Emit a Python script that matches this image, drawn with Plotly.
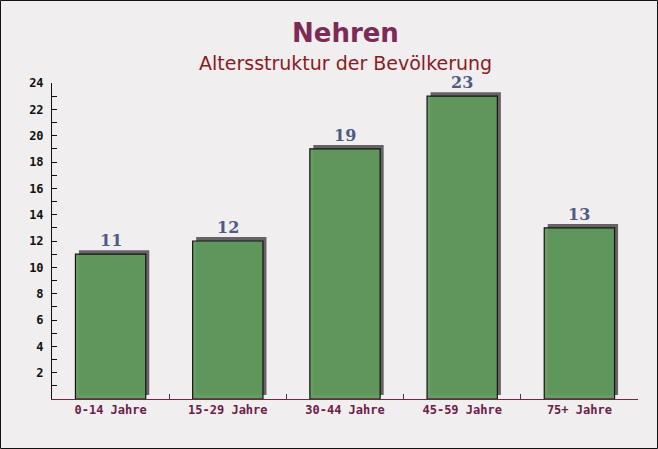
import plotly.graph_objects as go

categories = ["0-14 Jahre", "15-29 Jahre", "30-44 Jahre", "45-59 Jahre", "75+ Jahre"]
values = [11, 12, 19, 23, 13]
title = "Nehren"
subtitle = "Altersstruktur der Bevölkerung"

W, H = 658, 449
ML, MR, MT, MB = 52, 20, 83, 50
pw, ph = W - ML - MR, H - MT - MB

bw = 0.60
fig = go.Figure()
# shadow
fig.add_trace(go.Bar(
    x=categories, y=values, base=0.3, width=bw, offset=-bw / 2 + 0.03,
    marker=dict(color="#666266", line=dict(width=0)),
    hoverinfo="skip", showlegend=False,
))
# main bars
fig.add_trace(go.Bar(
    x=categories, y=values, width=bw, offset=-bw / 2,
    marker=dict(color="rgba(94,153,92,0.95)", line=dict(color="#151515", width=1.2)),
    showlegend=False,
))

annotations = [
    dict(text=str(v), x=c, y=v, xref="x", yref="y", yanchor="bottom", yshift=2,
         showarrow=False,
         font=dict(family="DejaVu Serif", size=16, color="#505a86", weight="bold"))
    for c, v in zip(categories, values)
]
annotations += [
    dict(text=title, xref="paper", yref="paper", x=0.5, y=1 + (MT - 33) / ph,
         xanchor="center", yanchor="middle", showarrow=False,
         font=dict(family="DejaVu Sans", size=26, color="#7b2b55", weight="bold")),
    dict(text=subtitle, xref="paper", yref="paper", x=0.5, y=1 + (MT - 63) / ph,
         xanchor="center", yanchor="middle", showarrow=False,
         font=dict(family="DejaVu Sans", size=19, color="#8b1a22")),
]

fig.update_layout(
    width=W, height=H,
    margin=dict(l=ML, r=MR, t=MT, b=MB),
    paper_bgcolor="#f1eef0", plot_bgcolor="rgba(0,0,0,0)",
    barmode="overlay",
    xaxis=dict(
        type="category", range=[-0.5, 4.5], showgrid=False,
        showline=True, linecolor="#6b2848", linewidth=1,
        ticks="inside", tickson="boundaries", ticklen=5, tickcolor="#6b2848",
        tickfont=dict(family="DejaVu Sans Mono", size=12, color="#6b2048", weight="bold"),
    ),
    yaxis=dict(
        range=[0, 24], showgrid=False, zeroline=False,
        showline=True, linecolor="#111111", linewidth=1,
        ticks="inside", ticklen=5, tickcolor="#111111",
        tickvals=list(range(2, 25, 2)), ticklabelstandoff=5,
        minor=dict(ticks="inside", ticklen=5, dtick=1, tickcolor="#111111"),
        tickfont=dict(family="DejaVu Sans Mono", size=12, color="#111111", weight="bold"),
    ),
    annotations=annotations,
    shapes=[dict(type="rect", xref="paper", yref="paper",
                 x0=-(ML - 0.5) / pw, x1=1 + (MR - 0.5) / pw,
                 y0=-(MB - 0.5) / ph, y1=1 + (MT - 0.5) / ph,
                 line=dict(color="#111111", width=1), layer="above")],
)

fig.write_html("out.html", config={"displayModeBar": False},
               post_script="document.body.style.margin='0px';")
